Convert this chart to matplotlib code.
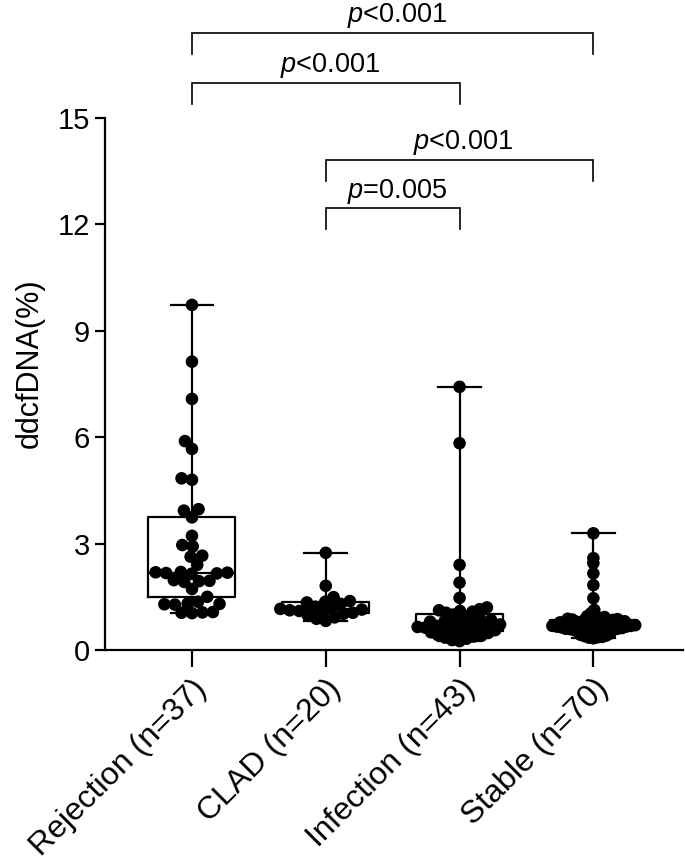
import numpy as np
import matplotlib
matplotlib.use("Agg")
import matplotlib.pyplot as plt

plt.rcParams['font.family'] = ['Liberation Sans', 'DejaVu Sans']
plt.rcParams['mathtext.fontset'] = 'custom'
plt.rcParams['mathtext.rm'] = 'Liberation Sans'
plt.rcParams['mathtext.it'] = 'Liberation Sans:italic'

categories = ["Rejection (n=37)", "CLAD (n=20)", "Infection (n=43)", "Stable (n=70)"]

rejection = [9.73, 8.13, 7.08, 5.89, 5.67, 4.84, 4.80, 3.97, 3.93, 3.74, 3.22,
             2.96, 2.92, 2.66, 2.63, 2.40, 2.20, 2.19, 2.18, 2.17, 2.16, 2.15,
             1.97, 1.95, 1.94, 1.92, 1.72, 1.50, 1.36, 1.31, 1.30, 1.29, 1.28,
             1.07, 1.06, 1.05, 1.04]
clad = [2.74, 1.81, 1.49, 1.38, 1.36, 1.34, 1.30, 1.22, 1.18, 1.16, 1.14, 1.12,
        1.10, 1.08, 1.05, 1.02, 0.98, 0.92, 0.88, 0.82]
infection = [7.42, 5.83, 2.40, 1.90, 1.47, 1.20, 1.15, 1.12, 1.10, 1.08, 1.05,
             1.00, 0.95, 0.92, 0.88, 0.85, 0.82, 0.80, 0.78, 0.76, 0.74, 0.72,
             0.70, 0.68, 0.66, 0.65, 0.63, 0.62, 0.60, 0.58, 0.56, 0.55, 0.52,
             0.50, 0.48, 0.45, 0.42, 0.40, 0.38, 0.35, 0.32, 0.28, 0.25]
stable = [3.29, 2.59, 2.45, 2.16, 1.83, 1.46, 1.13, 1.04,
          0.98, 0.95, 0.93, 0.91, 0.90, 0.88, 0.87, 0.86, 0.85, 0.84,
          0.83, 0.82, 0.81, 0.80, 0.80, 0.79, 0.78, 0.77, 0.76, 0.75,
          0.75, 0.74, 0.73, 0.72, 0.72, 0.71, 0.70, 0.70, 0.69, 0.68,
          0.68, 0.67, 0.66, 0.66, 0.65, 0.64, 0.64, 0.63, 0.62, 0.62,
          0.61, 0.60, 0.60, 0.59, 0.58, 0.57, 0.56, 0.55, 0.54, 0.53,
          0.52, 0.50, 0.49, 0.47, 0.45, 0.43, 0.41, 0.39, 0.37, 0.36,
          0.35, 0.33]
groups = [rejection, clad, infection, stable]

y_ticks = [0, 3, 6, 9, 12, 15]

# comparisons: (group a, group b, bracket level, label)
comparisons = [(0, 3, 17.39, "$\\it{p}$<0.001"),
               (0, 2, 15.98, "$\\it{p}$<0.001"),
               (1, 3, 13.81, "$\\it{p}$<0.001"),
               (1, 2, 12.45, "$\\it{p}$=0.005")]

W, H = 685, 863
fig = plt.figure(figsize=(W / 100, H / 100), dpi=100)
ax = fig.add_axes([105 / W, 1 - 650 / H, (683 - 105) / W, (650 - 118) / H])
ax.set_xlim(-0.65, 3.67)
ax.set_ylim(0, 15)

LW = 1.6
ax.boxplot(groups, positions=range(len(groups)), widths=0.65, whis=(0, 100),
           showfliers=False, capwidths=0.32,
           boxprops=dict(color='black', linewidth=LW),
           whiskerprops=dict(color='black', linewidth=LW),
           capprops=dict(color='black', linewidth=LW),
           medianprops=dict(color='black', linewidth=LW), zorder=2)


def swarm(xc, vals, diam, max_half):
    pts = ax.transData.transform(np.column_stack([np.full(len(vals), xc), vals]))
    ys = pts[:, 1]
    order = np.argsort(vals)
    best = None
    for factor in np.arange(1.0, 0.2, -0.04):
        d = diam * factor
        placed = []
        offs = np.zeros(len(vals))
        for i in order:
            y = ys[i]
            cands = [0.0]
            for (px, py) in placed:
                dy = y - py
                if abs(dy) < d:
                    dx = np.sqrt(d * d - dy * dy)
                    cands += [px + dx, px - dx]
            cands.sort(key=lambda c: (abs(c), c))
            chosen = cands[-1]
            for c in cands:
                if all((c - px) ** 2 + (y - py) ** 2 >= d * d - 1e-6 for (px, py) in placed):
                    chosen = c
                    break
            offs[i] = chosen
            placed.append((chosen, y))
        best = offs
        if np.max(np.abs(offs)) <= max_half:
            break
    unit = ax.transData.transform([(1, 0)])[0, 0] - ax.transData.transform([(0, 0)])[0, 0]
    return xc + best / unit


for i, vals in enumerate(groups):
    xs = swarm(i, np.array(vals), 12.5, 46)
    ax.scatter(xs, vals, s=82, color='black', edgecolors='none', zorder=3, clip_on=False)

ax.spines['top'].set_visible(False)
ax.spines['right'].set_visible(False)
ax.spines['left'].set_linewidth(LW)
ax.spines['bottom'].set_linewidth(LW)
ax.set_yticks(y_ticks)
ax.set_yticklabels([str(t) for t in y_ticks], fontsize=21)
ax.set_xticks(range(len(categories)))
ax.set_xticklabels(categories, fontsize=23, rotation=45, ha='right', va='top',
                   rotation_mode='anchor')
ax.tick_params(axis='y', length=7, width=LW, pad=4)
ax.tick_params(axis='x', length=12, width=LW, pad=5)
ax.set_ylabel("ddcfDNA(%)", fontsize=22)
ax.yaxis.set_label_coords(-0.105, 0.54)

drop = 0.58
for a, b, lvl, lab in comparisons:
    ax.plot([a, a, b, b], [lvl - drop, lvl, lvl, lvl - drop], color='black',
            linewidth=1.2, clip_on=False, solid_joinstyle='miter')
    ax.text((a + b) / 2 + 0.03, lvl + 0.08, lab, ha='center', va='bottom',
            fontsize=19.5, clip_on=False)

fig.savefig("out.png", dpi=100)
